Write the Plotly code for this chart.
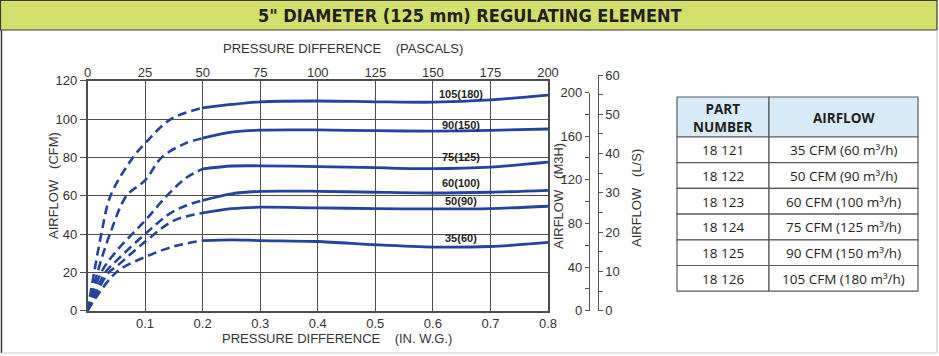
import plotly.graph_objects as go

W, H = 939, 356

# ---------------- data ----------------
bottom_ticks = [0.1, 0.2, 0.3, 0.4, 0.5, 0.6, 0.7, 0.8]
top_ticks = [0, 25, 50, 75, 100, 125, 150, 175, 200]
cfm_ticks = [0, 20, 40, 60, 80, 100, 120]
m3h_ticks = [0, 40, 80, 120, 160, 200]
m3h_minor = [20, 60, 100, 140, 180]
ls_ticks = [0, 10, 20, 30, 40, 50, 60]
ls_minor = [5, 15, 25, 35, 45, 55]

curve_labels = ["105(180)", "90(150)", "75(125)", "60(100)", "50(90)", "35(60)"]
label_pos_y = [113.2, 97.0, 80.2, 66.6, 57.1, 37.7]
label_pos_x = [0.648, 0.648, 0.648, 0.648, 0.648, 0.648]

# dashed (unregulated) part
dash_x = [
    [0, 0.0116, 0.024, 0.04, 0.079, 0.1, 0.145, 0.2],
    [0, 0.0174, 0.039, 0.068, 0.1, 0.129, 0.17, 0.2],
    [0, 0.024, 0.05, 0.1, 0.138, 0.17, 0.2],
    [0, 0.031, 0.05, 0.1, 0.15, 0.2],
    [0, 0.037, 0.05, 0.1, 0.15, 0.2],
    [0, 0.05, 0.1, 0.15, 0.2],
]
dash_y = [
    [0, 20, 40, 60, 80, 87.3, 100, 105.8],
    [0, 20, 40, 60, 68, 80, 87.3, 90],
    [0, 20, 31, 47, 60, 69, 74],
    [0, 20, 26, 40, 52, 57.6],
    [0, 20, 23, 36, 47, 51],
    [0, 20, 28, 33.5, 36.6],
]
# solid (regulated) part
solid_x = [0.2, 0.25, 0.3, 0.4, 0.5, 0.6, 0.7, 0.8]
solid_y = [
    [105.8, 107.6, 109.0, 109.4, 109.0, 108.8, 110.0, 112.5],
    [90.0, 93.2, 94.2, 94.3, 93.9, 93.7, 94.1, 94.8],
    [74.0, 75.5, 75.6, 75.2, 74.6, 74.1, 74.9, 77.5],
    [57.6, 61.0, 62.3, 62.3, 61.8, 61.4, 61.8, 62.8],
    [51.0, 53.2, 54.0, 53.6, 53.3, 53.1, 53.3, 54.5],
    [36.6, 37.0, 36.6, 36.1, 34.4, 33.2, 33.5, 35.6],
]

table_header = ["PART<br>NUMBER", "AIRFLOW"]
part_numbers = ["18 121", "18 122", "18 123", "18 124", "18 125", "18 126"]
airflows = ["35 CFM (60 m³/h)", "50 CFM (90 m³/h)", "60 CFM (100 m³/h)",
            "75 CFM (125 m³/h)", "90 CFM (150 m³/h)", "105 CFM (180 m³/h)"]

title_text = '5" DIAMETER (125 mm) REGULATING ELEMENT'

# ---------------- helpers ----------------
def px(x):
    return x / W

def py(y):
    return 1 - y / H

BLUE = "#2443a0"
GRID = "#4d4d4d"
TXT = "#333333"
FONT = "Liberation Sans, Arial, sans-serif"
TFONT = "Open Sans, Noto Sans, sans-serif"

fig = go.Figure()

for i in range(len(dash_x)):
    fig.add_trace(go.Scatter(x=dash_x[i], y=dash_y[i], mode="lines",
                             line=dict(color=BLUE, width=2.6, dash="9px,5px", shape="spline", smoothing=1.0),
                             hoverinfo="skip", showlegend=False))
    fig.add_trace(go.Scatter(x=solid_x, y=solid_y[i], mode="lines",
                             line=dict(color=BLUE, width=2.8, shape="spline", smoothing=0.8),
                             hoverinfo="skip", showlegend=False))

# invisible traces to activate the other axes
fig.add_trace(go.Scatter(x=[0, 200], y=[0, 0], xaxis="x2", yaxis="y", mode="markers",
                         marker=dict(opacity=0), hoverinfo="skip", showlegend=False))
fig.add_trace(go.Scatter(x=[0, 1], y=[0, 200], xaxis="x3", yaxis="y2", mode="markers",
                         marker=dict(opacity=0), hoverinfo="skip", showlegend=False))
fig.add_trace(go.Scatter(x=[0, 1], y=[0, 60], xaxis="x4", yaxis="y3", mode="markers",
                         marker=dict(opacity=0), hoverinfo="skip", showlegend=False))

x_dom = [px(87.5), px(548)]
y_dom = [py(310.7), py(80.7)]

fig.update_layout(
    width=W, height=H,
    margin=dict(l=0, r=0, t=0, b=0, autoexpand=False),
    paper_bgcolor="white", plot_bgcolor="rgba(0,0,0,0)",
    showlegend=False,
    font=dict(family=FONT, color=TXT, size=13),
    xaxis=dict(domain=x_dom, range=[0, 0.8], tickvals=bottom_ticks,
               ticktext=[f"{v:g}" for v in bottom_ticks],
               showgrid=True, gridcolor=GRID, gridwidth=1.3,
               showline=True, linecolor=GRID, linewidth=1.5, mirror=True,
               zeroline=False, ticks="", tickfont=dict(size=13, color=TXT),
               anchor="y"),
    xaxis2=dict(overlaying="x", side="top", range=[0, 200], tickvals=top_ticks,
                showgrid=False, zeroline=False, ticks="", showline=False,
                tickfont=dict(size=13, color=TXT), anchor="y"),
    yaxis=dict(domain=y_dom, range=[0, 120], tickvals=cfm_ticks,
               showgrid=True, gridcolor=GRID, gridwidth=1.3,
               showline=True, linecolor=GRID, linewidth=1.5, mirror=True,
               zeroline=False, ticks="outside", ticklen=6, tickcolor=GRID, tickwidth=1.3,
               tickfont=dict(size=13, color=TXT), anchor="x"),
    xaxis3=dict(domain=[px(590), px(591)], range=[0, 1], visible=False, anchor="y2"),
    xaxis4=dict(domain=[px(596.5), px(597.5)], range=[0, 1], visible=False, anchor="y3"),
    yaxis2=dict(domain=[py(310.7), py(92.5)], range=[0, 200], tickvals=m3h_ticks,
                anchor="x3", side="left",
                showgrid=False, zeroline=False, showline=True, linecolor="#555555", linewidth=1.2,
                ticks="outside", ticklen=4, tickcolor="#555555", tickwidth=1,
                minor=dict(tickvals=m3h_minor, ticks="outside", ticklen=4,
                           tickcolor="#555555", tickwidth=1),
                tickfont=dict(size=13, color=TXT)),
    yaxis3=dict(domain=[py(310.7), py(75)], range=[0, 60], tickvals=ls_ticks,
                anchor="x4", side="right",
                showgrid=False, zeroline=False, showline=True, linecolor="#555555", linewidth=1.2,
                ticks="outside", ticklen=4, tickcolor="#555555", tickwidth=1,
                minor=dict(tickvals=ls_minor, ticks="outside", ticklen=4,
                           tickcolor="#555555", tickwidth=1),
                tickfont=dict(size=13, color=TXT)),
)

shapes = [
    # banner
    dict(type="rect", xref="paper", yref="paper", x0=px(0.5), x1=px(937), y0=py(30), y1=py(0.5),
         fillcolor="#d3df6b", line=dict(color="#3a3a3a", width=1.2), layer="below"),
    # frame left
    dict(type="line", xref="paper", yref="paper", x0=px(1.5), x1=px(1.5), y0=py(30), y1=py(353),
         line=dict(color="#3a3a3a", width=1.5)),
    # frame bottom
    dict(type="line", xref="paper", yref="paper", x0=px(1.5), x1=px(937), y0=py(353), y1=py(353),
         line=dict(color="#cfcfcf", width=1.2)),
    # frame right
    dict(type="line", xref="paper", yref="paper", x0=px(937), x1=px(937), y0=py(30), y1=py(353),
         line=dict(color="#cfcfcf", width=1.2)),
]

NB = "\u00a0"
ann = [
    dict(text=title_text, x=0.5, y=py(15), xref="paper", yref="paper", showarrow=False,
         font=dict(family="DejaVu Sans Condensed, DejaVu Sans, sans-serif", size=18, color="#231f20", weight="bold"),
         xanchor="center", yanchor="middle"),
    dict(text="PRESSURE DIFFERENCE" + NB * 4 + "(PASCALS)", x=px(221), y=py(49), xref="paper", yref="paper",
         showarrow=False, xanchor="left", yanchor="middle", font=dict(size=13, color=TXT)),
    dict(text="PRESSURE DIFFERENCE" + NB * 4 + "(IN. W.G.)", x=px(220), y=py(338), xref="paper", yref="paper",
         showarrow=False, xanchor="left", yanchor="middle", font=dict(size=13, color=TXT)),
    dict(text="AIRFLOW" + NB * 3 + "(CFM)", x=px(53), y=py(186), xref="paper", yref="paper",
         showarrow=False, textangle=-90, xanchor="center", yanchor="middle", font=dict(size=13, color=TXT)),
    dict(text="AIRFLOW" + NB * 3 + "(M3H)", x=px(558), y=py(196), xref="paper", yref="paper",
         showarrow=False, textangle=-90, xanchor="center", yanchor="middle", font=dict(size=13, color=TXT)),
    dict(text="AIRFLOW" + NB * 3 + "(L/S)", x=px(636), y=py(198), xref="paper", yref="paper",
         showarrow=False, textangle=-90, xanchor="center", yanchor="middle", font=dict(size=13, color=TXT)),
]
for lab, lx, ly in zip(curve_labels, label_pos_x, label_pos_y):
    ann.append(dict(text=f"<b>{lab}</b>", x=lx, y=ly, xref="x", yref="y", showarrow=False,
                    xanchor="center", yanchor="middle", font=dict(size=11, color="#231f20")))

# ---- table (drawn as cells) ----
tab_left, tab_mid, tab_right = 677, 769, 918
tab_top, head_h, row_h = 97, 40, 25.7
TLINE = "#5a5a5a"
for (x0, x1), txt in zip([(tab_left, tab_mid), (tab_mid, tab_right)], table_header):
    shapes.append(dict(type="rect", xref="paper", yref="paper", x0=px(x0), x1=px(x1),
                       y0=py(tab_top + head_h), y1=py(tab_top), fillcolor="#d7ecf8",
                       line=dict(color=TLINE, width=1.2)))
    ann.append(dict(text=f"<b>{txt}</b>", x=px((x0 + x1) / 2), y=py(tab_top + head_h / 2 + 0.5),
                    xref="paper", yref="paper", showarrow=False, xanchor="center", yanchor="middle",
                    font=dict(family=TFONT, size=13.5, color="#231f20")))
for r, (pn, af) in enumerate(zip(part_numbers, airflows)):
    y0 = tab_top + head_h + r * row_h
    for (x0, x1), txt in zip([(tab_left, tab_mid), (tab_mid, tab_right)], [pn, af]):
        shapes.append(dict(type="rect", xref="paper", yref="paper", x0=px(x0), x1=px(x1),
                           y0=py(y0 + row_h), y1=py(y0), fillcolor="white",
                           line=dict(color=TLINE, width=1.2)))
        ann.append(dict(text=txt, x=px((x0 + x1) / 2), y=py(y0 + row_h / 2 + 0.5),
                        xref="paper", yref="paper", showarrow=False, xanchor="center", yanchor="middle",
                        font=dict(family=TFONT, size=13.5, color="#231f20")))

fig.update_layout(shapes=shapes, annotations=ann)

fig.write_html("out.html", config={"displayModeBar": False},
               post_script="document.body.style.margin='0';document.body.style.overflow='hidden';")
